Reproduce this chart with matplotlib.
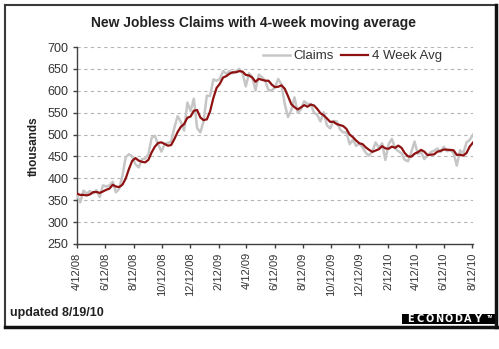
### New jobless claims with 4-week moving average
import numpy as np
import pandas as pd
import matplotlib
matplotlib.use('Agg')
import matplotlib.pyplot as plt
from matplotlib.lines import Line2D
from matplotlib.patches import Rectangle

plt.rcParams['font.family'] = ['Liberation Sans', 'DejaVu Sans']

### Data - weekly initial claims (thousands), week ending Saturday
first_week = '2008-04-12'
claims = [362, 345, 372, 365, 371, 366, 373, 357, 384, 381, 384, 392, 368,
          376, 406, 448, 455, 450, 432, 425, 444, 445, 455, 493, 497, 478,
          461, 478, 481, 484, 516, 542, 529, 509, 573, 554, 582, 515,
          505, 530, 589, 588, 626, 623, 627, 645, 639, 645, 640, 645, 650,
          640, 610, 640, 631, 601, 637, 631, 623, 601, 601, 608, 627, 614,
          570, 540, 555, 585, 550, 558, 576, 570, 570, 550, 545, 530, 551,
          521, 514, 531, 530, 512, 505, 505, 478, 488, 474, 480, 470, 458,
          452, 462, 482, 470, 480, 442, 478, 490, 469, 462, 457, 442, 439,
          460, 484, 456, 460, 444, 452, 460, 463, 468, 460, 472, 462, 465,
          458, 429, 464, 457, 482, 488, 500]
avg_4wk = [365.0, 362.0, 362.25, 361.0, 363.25, 368.5, 368.75, 366.75, 370.0,
           373.75, 376.5, 385.25, 381.25, 380.0, 385.5, 399.5, 421.25, 439.75,
           446.25, 440.5, 437.75, 436.5, 442.25, 459.25, 472.5, 480.75, 482.25,
           478.5, 474.5, 476.0, 489.75, 505.75, 517.75, 524.0, 538.25, 541.25,
           554.5, 556.0, 539.0, 533.0, 534.75, 553.0, 583.25, 606.5, 616.0,
           630.25, 633.5, 639.0, 642.25, 642.25, 645.0, 643.75, 636.25, 635.0,
           630.25, 620.5, 627.25, 625.0, 623.0, 623.0, 614.0, 608.25, 609.25,
           612.5, 604.75, 587.75, 569.75, 562.5, 557.5, 562.0, 567.25, 563.5,
           568.5, 566.5, 558.75, 548.75, 544.0, 536.75, 529.0, 529.25, 524.0,
           521.75, 519.5, 513.0, 500.0, 494.0, 486.25, 480.0, 478.0, 470.5,
           465.0, 460.5, 463.5, 466.5, 473.5, 468.5, 467.5, 472.5, 469.75,
           474.75, 469.5, 457.5, 450.0, 449.5, 456.25, 459.75, 465.0, 461.0,
           453.0, 454.0, 454.75, 460.75, 462.75, 465.75, 465.5, 464.75, 464.25,
           453.5, 454.0, 452.0, 458.0, 472.75, 481.75]
tick_dates = ['2008-04-12', '2008-06-12', '2008-08-12', '2008-10-12',
              '2008-12-12', '2009-02-12', '2009-04-12', '2009-06-12',
              '2009-08-12', '2009-10-12', '2009-12-12', '2010-02-12',
              '2010-04-12', '2010-06-12', '2010-08-12']
y_ticks = [250, 300, 350, 400, 450, 500, 550, 600, 650, 700]

weeks = pd.date_range(first_week, periods=len(claims), freq='7D')
ticks = pd.to_datetime(tick_dates)
tick_labels = ['%d/%d/%s' % (d.month, d.day, d.strftime('%y')) for d in ticks]

### Figure
W, H = 499, 349
fig = plt.figure(figsize=(W/100, H/100), dpi=100)
fig.patch.set_facecolor('white')

def fx(px):
    return px/W
def fy(py):
    return 1 - py/H

ax = fig.add_axes([fx(77), fy(244), fx(473) - fx(77), fy(47) - fy(244)])

ax.plot(weeks, claims, color='#c6c6c6', lw=1.8, label='Claims', zorder=3)
ax.plot(weeks, avg_4wk, color='#8e1212', lw=1.6, label='4 Week Avg', zorder=4)

ax.set_xlim(weeks[0], weeks[-1])
ax.set_ylim(250, 700)
ax.set_yticks(y_ticks)
ax.set_xticks(ticks)
ax.set_xticklabels(tick_labels, rotation=90, fontsize=8, color='#333333')
ax.tick_params(axis='y', labelsize=9, labelcolor='#333333')
ax.tick_params(direction='out', length=3, width=1, color='#404040')
ax.tick_params(axis='x', pad=3)
ax.tick_params(axis='y', pad=3)

ax.grid(axis='y', linestyle=(0, (3, 3)), color='#b4b4b4', lw=0.8, zorder=1)
for s in ['top', 'right']:
    ax.spines[s].set_visible(False)
for s in ['left', 'bottom']:
    ax.spines[s].set_color('#404040')
    ax.spines[s].set_linewidth(1.0)

leg = ax.legend(loc='upper center', bbox_to_anchor=(0.695, 0.995), ncol=2,
                fontsize=9.5, frameon=True, fancybox=False, framealpha=1,
                handlelength=2.05, handletextpad=0.25, columnspacing=0.6,
                borderpad=0.15, borderaxespad=0)
leg.get_frame().set_edgecolor('none')
leg.get_frame().set_facecolor('white')
for t in leg.get_texts():
    t.set_color('#333333')

### Titles and labels
fig.text(fx(254), fy(26.5), 'New Jobless Claims with 4-week moving average',
         ha='center', va='baseline', fontsize=10, fontweight='bold', color='#222222')
fig.text(fx(34), fy(146), 'thousands', rotation=90, ha='center', va='center',
         fontsize=8.5, fontweight='bold', color='#222222')
fig.text(fx(10), fy(316), 'updated 8/19/10', ha='left', va='baseline',
         fontsize=9, fontweight='bold', color='#222222')

### Logo box
fig.add_artist(Rectangle((fx(402), fy(323.5)), fx(497) - fx(402), fy(313.5) - fy(323.5),
                         transform=fig.transFigure, facecolor='black', edgecolor='none'))
logo = 'ECONODAY'
for i, ch in enumerate(logo):
    fig.text(fx(410 + i*9.7), fy(318.8), ch, ha='center', va='center',
             fontsize=7, fontweight='bold', color='white', family='DejaVu Sans')
fig.text(fx(490), fy(317), 'TM', ha='center', va='center', fontsize=3.2,
         fontweight='bold', color='white')

### Outer frame
fig.add_artist(Line2D([fx(5), fx(496)], [fy(5), fy(5)], transform=fig.transFigure,
                      color='#3a3a3a', lw=1.5))
fig.add_artist(Line2D([fx(5), fx(5)], [fy(5), fy(327)], transform=fig.transFigure,
                      color='#3a3a3a', lw=1.5))
fig.add_artist(Line2D([fx(5), fx(497)], [fy(327), fy(327)], transform=fig.transFigure,
                      color='#111111', lw=2.5))
fig.add_artist(Line2D([fx(496), fx(496)], [fy(5), fy(327)], transform=fig.transFigure,
                      color='#111111', lw=2.5))

fig.savefig('out.png', dpi=100)
